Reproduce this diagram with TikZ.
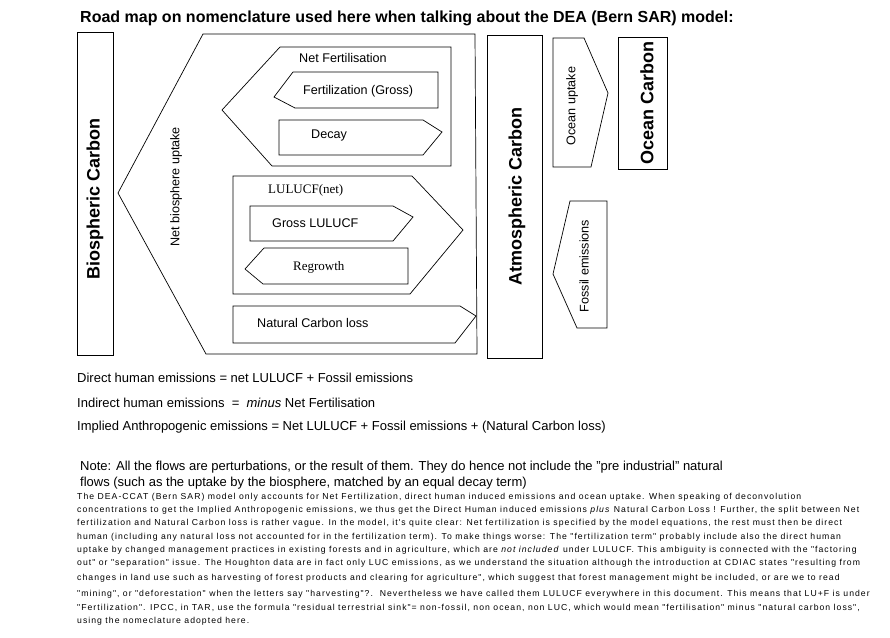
\documentclass[tikz,border=0pt]{standalone}
\usepackage{fontspec}
\setmainfont{Liberation Sans}
\newfontfamily\timesfont{Liberation Serif}
\newfontfamily\notefont[LetterSpace=12]{Liberation Sans}
\usetikzlibrary{positioning}

\begin{document}
\begin{tikzpicture}[x=1pt, y=-1pt, every node/.style={inner sep=0pt},
  flow/.style={draw=black, line width=0.7pt, line join=miter},
  stocklabel/.style={rotate=90, font=\fontsize{18}{20}\selectfont\bfseries},
  flowlabel/.style={font=\fontsize{12.6}{14}\selectfont},
  seriflabel/.style={font=\timesfont\fontsize{13}{15}\selectfont},
  eqline/.style={anchor=west, font=\fontsize{13}{15}\selectfont},
]

% Page frame
\fill[white] (0,0) rectangle (890,637);
\useasboundingbox (0,0) rectangle (890,637);

% Title
\node[anchor=west, font=\fontsize{16}{18}\selectfont\bfseries] (title) at (80,18)
  {Road map on nomenclature used here when talking about the DEA (Bern SAR) model:};

% Biospheric carbon stock
\draw[flow] (77,32) rectangle (113,355);
\node[stocklabel] (bio) at (95,199) {Biospheric Carbon};

% Net biosphere uptake
\draw[flow] (118,193) -- (203,34) -- (475,34) -- (477,354) -- (206,354) -- cycle;
\node[flowlabel, rotate=90] (nbu) at (176,187) {Net biosphere uptake};

% Net fertilisation and its parts
\draw[flow] (222,110) -- (280,47) -- (451,47) -- (451,166) -- (272,166) -- cycle;
\node[flowlabel, anchor=west] (netfert) at (299,58) {Net Fertilisation};
\draw[flow] (274,97) -- (293,72) -- (438,72) -- (438,108) -- (295,108) -- cycle;
\node[flowlabel, anchor=west] (grossfert) at (303,91) {Fertilization (Gross)};
\draw[flow] (279,120) -- (423,120) -- (442,132) -- (423,155) -- (279,155) -- cycle;
\node[flowlabel, anchor=west] (decay) at (311,135) {Decay};

% LULUCF and its parts
\draw[flow] (233,176) -- (412,176) -- (463,230) -- (410,294) -- (233,294) -- cycle;
\node[seriflabel, anchor=west] (lulucf) at (268,190) {LULUCF(net)};
\draw[flow] (250,206) -- (393,206) -- (413,217) -- (393,241) -- (250,241) -- cycle;
\node[flowlabel, anchor=west] (grosslu) at (272,223) {Gross LULUCF};
\draw[flow] (245,269) -- (264,248) -- (408,248) -- (408,284) -- (263,284) -- cycle;
\node[seriflabel, anchor=west] (regrowth) at (293,267) {Regrowth};

% Natural carbon loss
\draw[flow] (233,306) -- (460,306) -- (476,316) -- (455,343) -- (233,343) -- cycle;
\node[flowlabel, anchor=west] (natloss) at (257,323) {Natural Carbon loss};

% Atmospheric carbon stock
\draw[flow] (487,35) rectangle (542,358);
\node[stocklabel] (atm) at (517,196) {Atmospheric Carbon};

% Ocean uptake and ocean stock
\draw[flow] (553,38) -- (584,38) -- (608,93) -- (591,167) -- (553,167) -- cycle;
\node[flowlabel, rotate=90] (oup) at (572,106) {Ocean uptake};
\draw[flow] (618,37) rectangle (667,169);
\node[stocklabel] (ocean) at (647,103) {Ocean Carbon};

% Fossil emissions
\draw[flow] (607,201) -- (607,328) -- (577,328) -- (553,274) -- (570,201) -- cycle;
\node[flowlabel, rotate=90] (fossil) at (584,266) {Fossil emissions};

% Definitions
\node[eqline] (direct) at (77,378) {Direct human emissions = net LULUCF + Fossil emissions};
\node[eqline] (indirect) at (77,403) {Indirect human emissions\ \ =\ \ \textit{minus} Net Fertilisation};
\node[eqline] (implied) at (77,427) {Implied Anthropogenic emissions = Net LULUCF + Fossil emissions + (Natural Carbon loss)};

% Notes
\node[anchor=north west, align=left, font=\fontsize{13}{16}\selectfont] (note) at (80,461)
  {Note: All the flows are perturbations, or the result of them. They do hence not include the "pre industrial" natural\\
   flows (such as the uptake by the biosphere, matched by an equal decay term)};
\node[anchor=north west, align=left, font=\notefont\fontsize{8.65}{13.2}\selectfont] (remark) at (77,493)
  {The DEA-CCAT (Bern SAR) model only accounts for Net Fertilization, direct human induced emissions and ocean uptake. When speaking of deconvolution\\
   concentrations to get the Implied Anthropogenic emissions, we thus get the Direct Human induced emissions \textit{plus} Natural Carbon Loss ! Further, the split between Net\\
   fertilization and Natural Carbon loss is rather vague. In the model, it's quite clear: Net fertilization is specified by the model equations, the rest must then be direct\\
   human (including any natural loss not accounted for in the fertilization term). To make things worse: The "fertilization term" probably include also the direct human\\
   uptake by changed management practices in existing forests and in agriculture, which are \textit{not included} under LULUCF. This ambiguity is connected with the "factoring\\
   out" or "separation" issue. The Houghton data are in fact only LUC emissions, as we understand the situation although the introduction at CDIAC states "resulting from\\[2pt]
   changes in land use such as harvesting of forest products and clearing for agriculture", which suggest that forest management might be included, or are we to read\\[3pt]
   "mining", or "deforestation" when the letters say "harvesting"?.\ \ Nevertheless we have called them LULUCF everywhere in this document. This means that LU+F is under\\
   "Fertilization". IPCC, in TAR, use the formula "residual terrestrial sink"= non-fossil, non ocean, non LUC, which would mean "fertilisation" minus "natural carbon loss",\\
   using the nomeclature adopted here.};

\end{tikzpicture}
\end{document}
